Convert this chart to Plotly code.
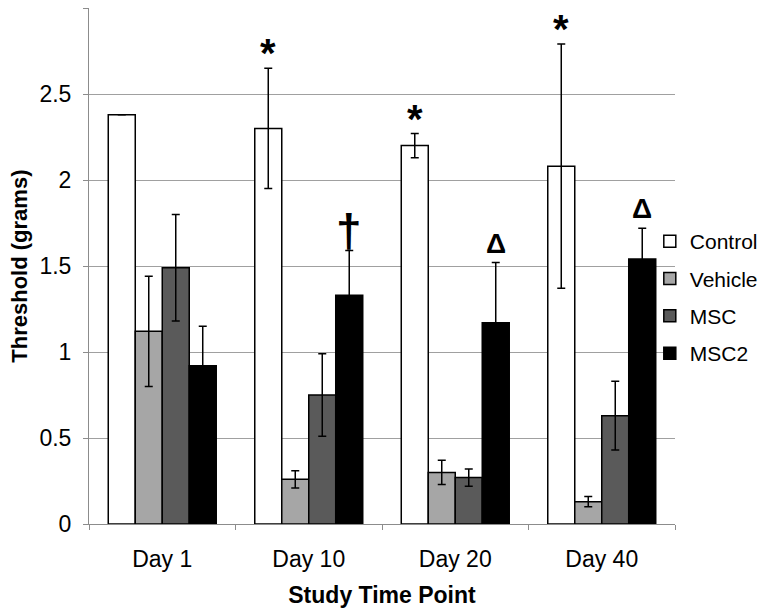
import plotly.graph_objects as go

categories = ["Day 1", "Day 10", "Day 20", "Day 40"]
series_names = ["Control", "Vehicle", "MSC", "MSC2"]
control = [2.38, 2.30, 2.20, 2.08]
control_err = [0.0, 0.35, 0.07, 0.71]
vehicle = [1.12, 0.26, 0.30, 0.13]
vehicle_err = [0.32, 0.05, 0.07, 0.03]
msc = [1.49, 0.75, 0.27, 0.63]
msc_err = [0.31, 0.24, 0.05, 0.20]
msc2 = [0.92, 1.33, 1.17, 1.54]
msc2_err = [0.23, 0.26, 0.35, 0.18]
colors = ["#ffffff", "#a6a6a6", "#5a5a5a", "#000000"]

# significance markers: (category index, series index, symbol)
marks = [(1, 0, "*"), (2, 0, "*"), (3, 0, "*"), (1, 3, "†"), (2, 3, "Δ"), (3, 3, "Δ")]

values = [control, vehicle, msc, msc2]
errors = [control_err, vehicle_err, msc_err, msc2_err]

FONT = "Liberation Sans, Arial, sans-serif"
bargap = 0.263

fig = go.Figure()
for name, v, e, c in zip(series_names, values, errors, colors):
    fig.add_trace(go.Bar(
        name=name, x=categories, y=v, legendgroup=name,
        marker=dict(color=c, line=dict(color="black", width=1.5)),
        error_y=dict(type="data", array=e, color="black", thickness=1.5, width=4),
    ))

n = len(series_names)
bw = (1 - bargap) / n
annotations = []
for ci, si, sym in marks:
    xpos = ci - (1 - bargap) / 2 + bw * (si + 0.5)
    top = values[si][ci] + errors[si][ci]
    if sym == "*":
        annotations.append(dict(x=xpos, y=top, xref="x", yref="y", text="<b>*</b>",
                                showarrow=False, yanchor="middle", yshift=15,
                                font=dict(family=FONT, size=40, color="black")))
    elif sym == "†":
        annotations.append(dict(x=xpos, y=top, xref="x", yref="y", text="<b>†</b>",
                                showarrow=False, yanchor="middle", yshift=20,
                                font=dict(family=FONT, size=46, color="black")))
    else:
        annotations.append(dict(x=xpos, y=top, xref="x", yref="y", text="<b>Δ</b>",
                                showarrow=False, yanchor="bottom", yshift=2,
                                font=dict(family=FONT, size=28, color="black")))

annotations.append(dict(x=-0.12, y=0.5, xref="paper", yref="paper",
                        text="<b>Threshold (grams)</b>", textangle=-90,
                        showarrow=False, xanchor="center", yanchor="middle",
                        font=dict(family=FONT, size=22, color="black")))

fig.update_layout(
    width=768, height=615,
    margin=dict(l=81, r=101, t=0, b=99, autoexpand=False),
    paper_bgcolor="white", plot_bgcolor="white",
    barmode="group", bargap=bargap, bargroupgap=0,
    font=dict(family=FONT, size=23, color="black"),
    showlegend=True,
    legend=dict(x=0.957, y=0.587, xanchor="left", yanchor="top",
                bgcolor="rgba(0,0,0,0)", font=dict(size=21), tracegroupgap=7),
    annotations=annotations,
)
fig.update_xaxes(
    showline=True, linecolor="#8c8c8c", linewidth=1,
    ticks="outside", tickson="boundaries", ticklen=5, tickcolor="#8c8c8c",
    tickfont=dict(size=23), automargin=False, ticklabelstandoff=14,
    title=dict(text="<b>Study Time Point</b>", font=dict(size=23), standoff=16),
)
fig.update_yaxes(
    range=[0, 3], dtick=0.5,
    showline=True, linecolor="#8c8c8c", linewidth=1,
    ticks="outside", ticklen=5, tickcolor="#8c8c8c",
    showgrid=True, gridcolor="#a0a0a0", gridwidth=1,
    zeroline=False, tickfont=dict(size=23), automargin=False, ticklabelstandoff=7,
)

fig.write_html("out.html")
